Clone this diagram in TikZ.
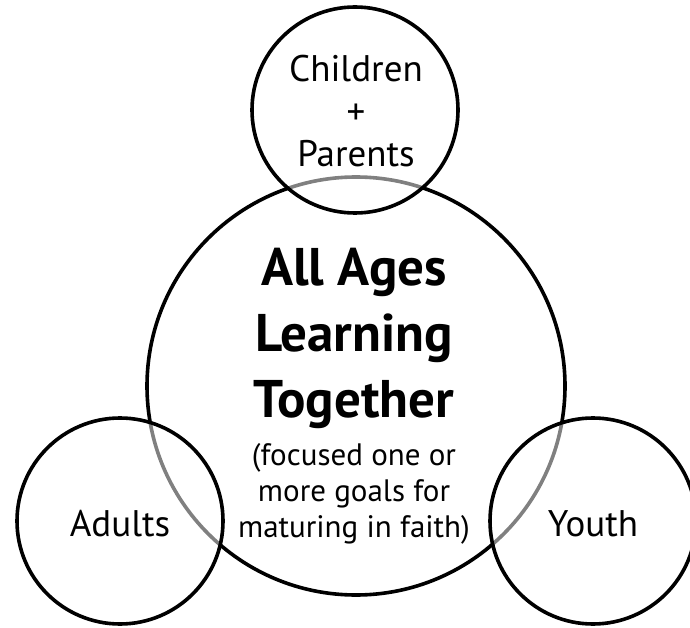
\documentclass[tikz,border=0pt]{standalone}
\usepackage{fontspec}
\setmainfont{PT Sans}
\begin{document}
\begin{tikzpicture}[x=1pt,y=-1pt,
  ring/.style={circle, draw=black, line width=3.6pt, inner sep=0pt, outer sep=0pt},
  smallring/.style={ring, minimum size=206pt, fill=white, fill opacity=0.5},
  lab/.style={anchor=base, inner sep=0pt, font=\fontsize{37}{42}\selectfont},
  ttl/.style={anchor=base, inner sep=0pt, font=\fontsize{53}{66}\selectfont\bfseries},
  sub/.style={anchor=base, inner sep=0pt, font=\fontsize{31}{36}\selectfont}]
\useasboundingbox (0,0) rectangle (690,628);
\clip (0,0) rectangle (690,628);
\node[ring, minimum size=418pt] (big) at (356,386) {};
\node[smallring] (top) at (355,110) {};
\node[smallring] (adults) at (120,521) {};
\node[smallring] (youth) at (593,521) {};
% labels
\node[lab] (c1) at (356,82) {Children};
\node[lab] (c2) at (356,124.5) {+};
\node[lab] (c3) at (356,167) {Parents};
\node[lab] (ad) at (120,536) {Adults};
\node[lab] (yo) at (593,536) {Youth};
\node[ttl] (t1) at (354,285) {All Ages};
\node[ttl] (t2) at (354,351) {Learning};
\node[ttl] (t3) at (354,417) {Together};
\node[sub] (s1) at (354,465) {(focused one or};
\node[sub] (s2) at (354,501) {more goals for};
\node[sub] (s3) at (354,537) {maturing in faith)};
\end{tikzpicture}
\end{document}
